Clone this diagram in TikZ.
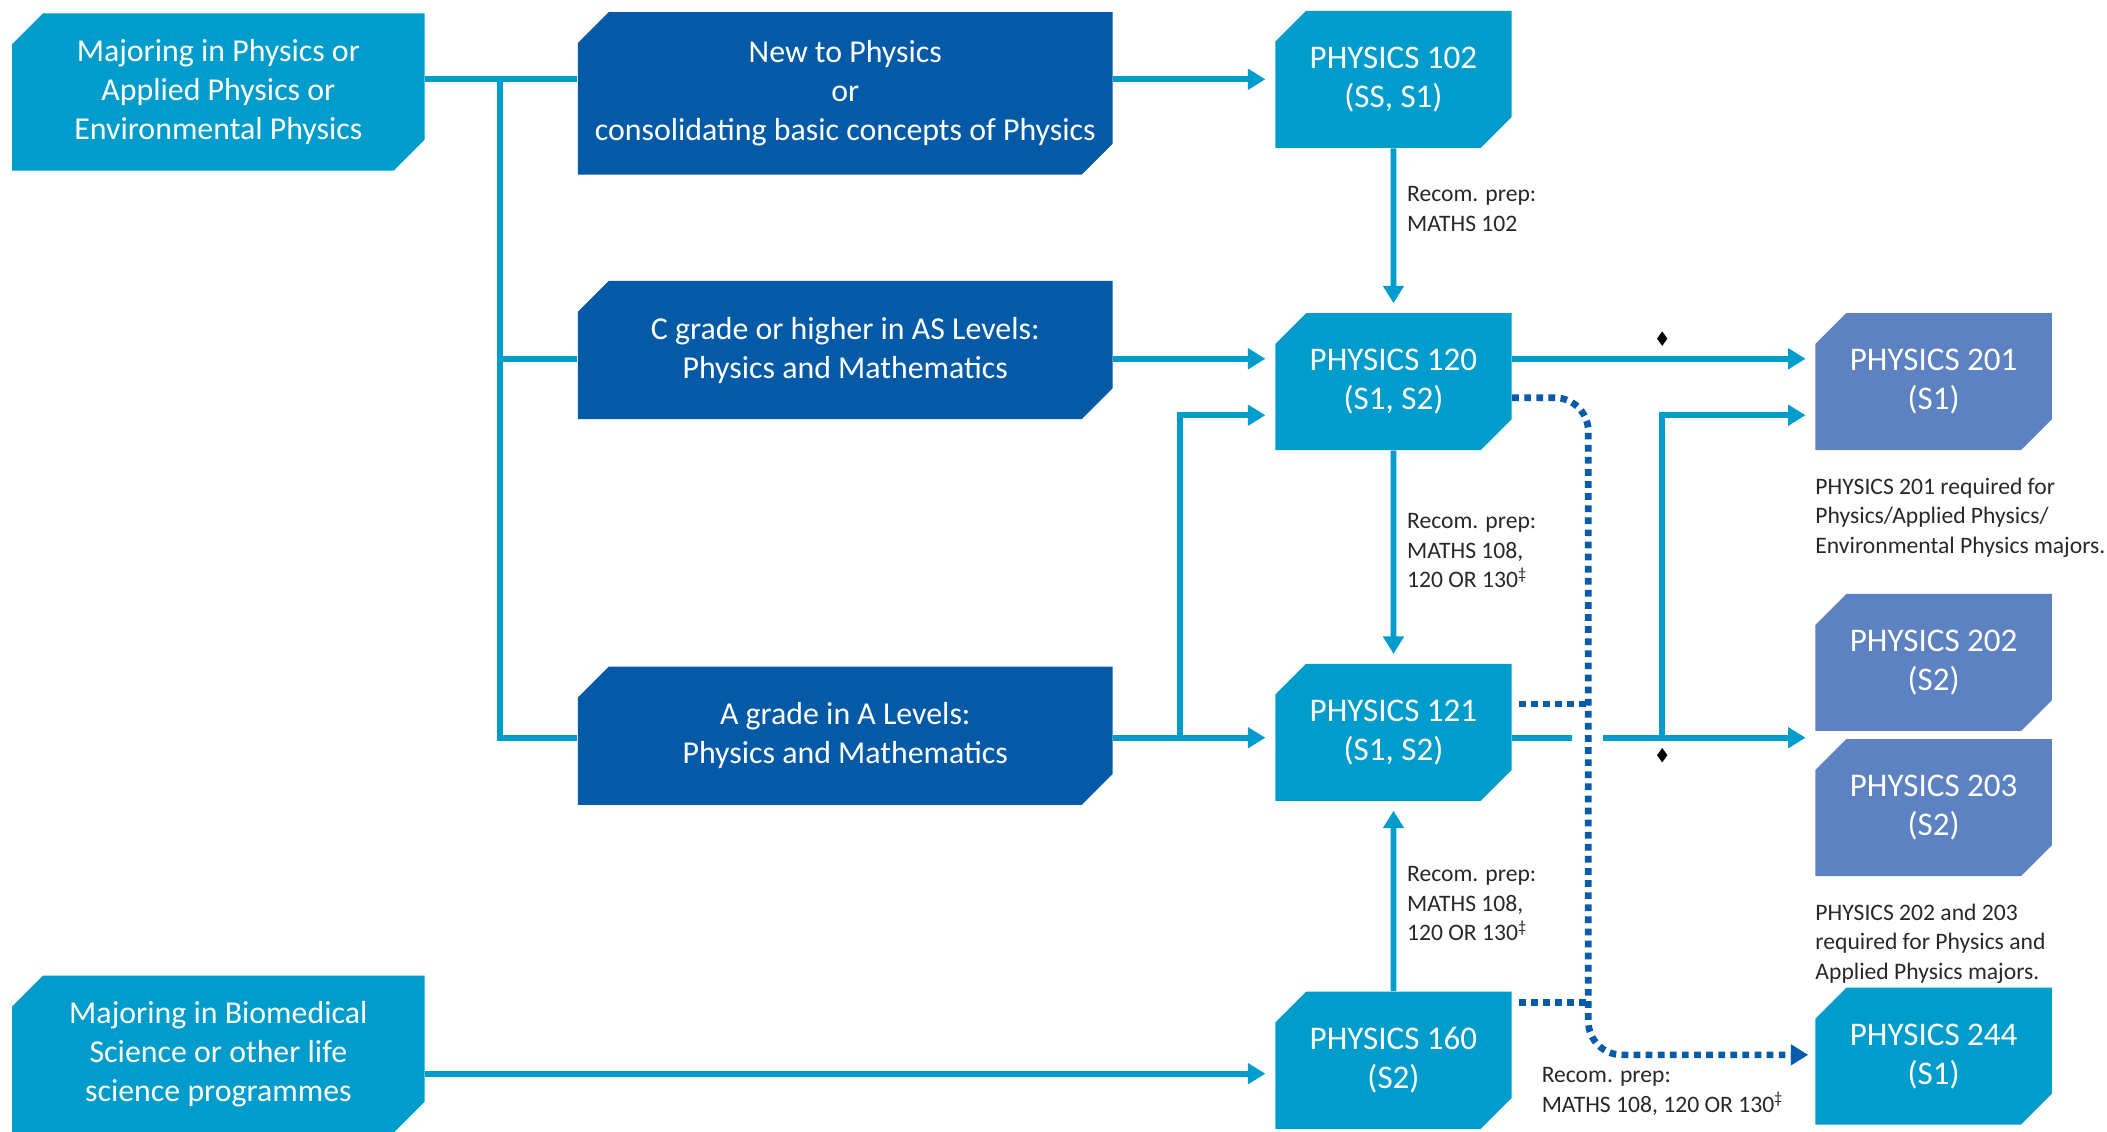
\documentclass[tikz,border=0pt]{standalone}
\usepackage{fontspec}
\setmainfont{Carlito}
\usetikzlibrary{positioning, shapes.misc, shapes.geometric, arrows.meta}

\definecolor{lightblue}{RGB}{0,156,204}
\definecolor{darkblue}{RGB}{5,90,168}
\definecolor{midblue}{RGB}{92,130,193}
\definecolor{dotblue}{RGB}{8,90,170}
\definecolor{notegrey}{RGB}{40,40,40}

\tikzset{
    box/.style={chamfered rectangle, chamfered rectangle corners={north west, south east},
        chamfered rectangle xsep=0.23cm, chamfered rectangle ysep=0.23cm,
        inner sep=0pt, text=white, align=center},
    entry/.style={box, fill=lightblue, minimum width=6.14cm, minimum height=2.34cm,
        font=\fontsize{13.5}{16.5}\selectfont},
    route/.style={box, fill=darkblue, minimum width=7.96cm, minimum height=2.06cm,
        font=\fontsize{13.5}{16.5}\selectfont},
    course/.style={box, fill=lightblue, minimum width=3.52cm, minimum height=2.04cm,
        font=\fontsize{14}{16.5}\selectfont},
    upper/.style={course, fill=midblue},
    link/.style={draw=lightblue, line width=0.085cm},
    flow/.style={link, -{Triangle[length=0.26cm, width=0.3cm]}, shorten >=0.14cm},
    dotflow/.style={draw=dotblue, line width=0.1cm, dash pattern=on 0.1cm off 0.08cm,
        -{Triangle[length=0.26cm, width=0.3cm]}, shorten >=0.1cm},
    dotlink/.style={draw=dotblue, line width=0.1cm, dash pattern=on 0.1cm off 0.08cm},
    prep/.style={text=notegrey, align=left, inner sep=0pt,
        font=\fontsize{10}{12.5}\selectfont},
    note/.style={prep, font=\fontsize{10}{12.5}\selectfont},
    flag/.style={diamond, fill=black, inner sep=0pt, minimum width=0.16cm, minimum height=0.22cm}
}

\begin{document}
\begin{tikzpicture}[x=0.02cm, y=-0.02cm]
\useasboundingbox (0,0) rectangle (1568,842);

\node[entry] (physmaj) at (162.5,68.5) {Majoring in Physics or\\Applied Physics or\\Environmental Physics};
\node[entry] (biomaj) at (162.5,784.5) {Majoring in Biomedical\\Science or other life\\science programmes};

\node[route, minimum height=2.42cm] (newphys) at (629,69.5) {New to Physics\\or\\consolidating basic concepts of Physics};
\node[route] (cgrade) at (629,260.5) {C grade or higher in AS Levels:\\Physics and Mathematics};
\node[route] (agrade) at (629,547.5) {A grade in A Levels:\\Physics and Mathematics};

\node[course] (p102) at (1037,59) {PHYSICS 102\\(SS, S1)};
\node[course] (p120) at (1037,284) {PHYSICS 120\\(S1, S2)};
\node[course] (p121) at (1037,545) {PHYSICS 121\\(S1, S2)};
\node[course] (p160) at (1037,789) {PHYSICS 160\\(S2)};

\node[upper] (p201) at (1439,284) {PHYSICS 201\\(S1)};
\node[upper] (p202) at (1439,493) {PHYSICS 202\\(S2)};
\node[upper] (p203) at (1439,601) {PHYSICS 203\\(S2)};
\node[course] (p244) at (1439,786) {PHYSICS 244\\(S1)};

\node[note, below=0.4cm of p201.south west, anchor=north west] (note201)
    {PHYSICS 201 required for\\Physics/Applied Physics/\\Environmental Physics majors.};
\node[note, below=0.4cm of p203.south west, anchor=north west] (note203)
    {PHYSICS 202 and 203\\required for Physics and\\Applied Physics majors.};

\coordinate (row1) at (0,59);
\coordinate (row2) at (0,267);
\coordinate (row3) at (0,309);
\coordinate (rowd) at (0,296);
\coordinate (rowe) at (0,524);
\coordinate (row4) at (0,549);
\coordinate (rowf) at (0,746);
\coordinate (row6) at (0,785);
\coordinate (row5) at (0,799);
\coordinate (split) at (372,0);
\coordinate (fork) at (878,0);
\coordinate (dotx) at (1182,0);
\coordinate (gapl) at (1170,0);
\coordinate (gapr) at (1193,0);
\coordinate (stem) at (1237,0);

\draw[link] (physmaj.east |- row1) -- (newphys.west |- row1);
\draw[link] (split |- row1) -- (split |- row4) -- (agrade.west |- row4);
\draw[link] (split |- row2) -- (cgrade.west |- row2);

\draw[flow] (newphys.east |- row1) -- (p102.west |- row1);
\draw[flow] (cgrade.east |- row2) -- (p120.west |- row2);
\draw[flow] (agrade.east |- row4) -- (p121.west |- row4);
\draw[flow] (fork |- row4) -- (fork |- row3) -- (p120.west |- row3);
\draw[flow] (biomaj.east |- row5) -- (p160.west |- row5);

\draw
    (p102) edge[flow] node[prep, pos=0.37, right=0.16cm] {Recom. prep:\\MATHS 102} (p120)
    (p120) edge[flow] node[prep, pos=0.47, right=0.16cm] {Recom. prep:\\MATHS 108,\\120 OR 130\textsuperscript{\ddag}} (p121)
    (p160) edge[flow] node[prep, pos=0.46, right=0.16cm] {Recom. prep:\\MATHS 108,\\120 OR 130\textsuperscript{\ddag}} (p121)
    ;

\draw[flow] (p120.east |- row2) -- (p201.west |- row2);
\draw[link] (p121.east |- row4) -- (gapl |- row4);
\draw[flow] (gapr |- row4) -- (p202.west |- row4);
\draw[flow] (stem |- row4) -- (stem |- row3) -- (p201.west |- row3);
\node[flag] (flagtop) at (stem |- 0,252) {};
\node[flag] (flagbot) at (stem |- 0,562) {};

\draw[dotflow, rounded corners=0.5cm] (p120.east |- rowd) -| (dotx |- row6) -- (p244.west |- row6);
\draw[dotlink, shorten <=0.1cm] (p121.east |- rowe) -- (dotx |- rowe);
\draw[dotlink, shorten <=0.1cm] (p160.east |- rowf) -- (dotx |- rowf);
\node[prep, anchor=north west] (prep244) at (1147,794) {Recom. prep:\\MATHS 108, 120 OR 130\textsuperscript{\ddag}};
\end{tikzpicture}
\end{document}
